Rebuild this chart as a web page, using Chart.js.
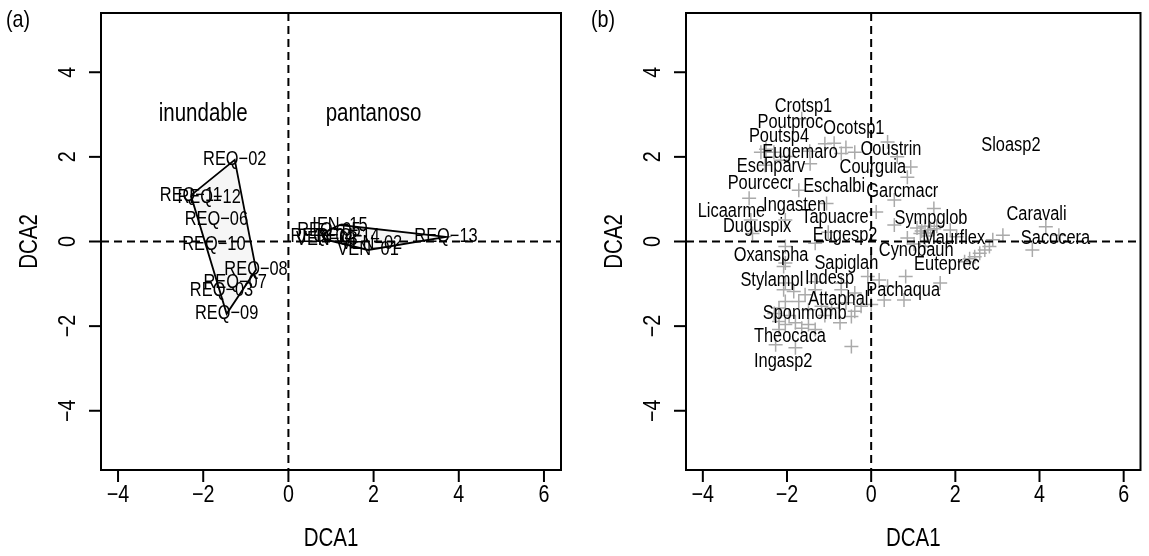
<!DOCTYPE html>
<html><head><meta charset="utf-8">
<script src="https://cdn.jsdelivr.net/npm/chart.js@4.4.1/dist/chart.umd.min.js"></script>
<style>
html,body{margin:0;padding:0;background:#fff;width:1149px;height:556px;overflow:hidden}
#ca{position:absolute;left:0;top:0}
#cb{position:absolute;left:585px;top:0}
</style></head><body>
<canvas id="ca" width="580" height="556"></canvas>
<canvas id="cb" width="564" height="556"></canvas>
<script>
// ---------- shared axis definitions ----------
const xTicks = [-4, -2, 0, 2, 4, 6];
const yTicks = [-4, -2, 0, 2, 4];
const xLimits = [-4.4, 6.4];
const yLimits = [-5.4, 5.4];
const xTitle = "DCA1";
const yTitle = "DCA2";

// ---------- panel (a): sites ----------
const siteNames = ["REQ−02","REQ−11","REQ−12","REQ−06","REQ−10","REQ−08","REQ−07","REQ−03","REQ−09",
                   "REQ−04","REQ−05","VEN−03","REQ−14","VEN−02","VEN−01","IEN−15","REQ−13"];
const siteX = [-1.26,-2.29,-1.86,-1.69,-1.75,-0.76,-1.25,-1.57,-1.45,
               0.79,0.95,0.90,1.40,1.95,1.87,1.21,3.70];
const siteY = [1.93,1.09,1.04,0.51,-0.08,-0.67,-0.98,-1.16,-1.71,
               0.13,0.27,0.04,0.11,-0.04,-0.20,0.39,0.11];
const siteGroup = [0,0,0,0,0,0,0,0,0,1,1,1,1,1,1,1,1];
const groupNames = ["inundable","pantanoso"];
const groupLabelX = [-2, 2];
const groupLabelY = [3, 3];

// ---------- panel (b): species ----------
const spLabelNames = ["Crotsp1","Poutproc","Ocotsp1","Poutsp4","Eugemaro","Coustrin","Eschparv","Courguia",
  "Pourcecr","Eschalbi","Garcmacr","Ingasten","Licaarme","Tapuacre","Duguspix","Eugesp2","Oxanspha",
  "Sapiglah","Stylampl","Indesp","Attaphal","Pachaqua","Sponmomb","Theocaca","Ingasp2","Cynobauh",
  "Euteprec","Sympglob","Maurflex","Sloasp2","Caravali","Sacocera"];
const spLabelX = [-1.61,-1.92,-0.41,-2.19,-1.69,0.47,-2.38,0.04,
  -2.63,-0.88,0.74,-1.82,-3.32,-0.86,-2.71,-0.62,-2.38,
  -0.59,-2.36,-0.99,-0.78,0.76,-1.58,-1.93,-2.09,1.07,
  1.80,1.42,1.96,3.32,3.93,4.38];
const spLabelY = [3.19,2.82,2.66,2.48,2.11,2.17,1.78,1.76,
  1.37,1.29,1.19,0.86,0.70,0.57,0.35,0.15,-0.32,
  -0.51,-0.91,-0.87,-1.36,-1.16,-1.71,-2.24,-2.83,-0.22,
  -0.54,0.55,0.08,2.27,0.65,0.08];
const spX = [-1.65,-1.10,-2.50,-2.31,-2.15,-1.96,-2.52,-1.45,-0.39,0.39,0.62,0.94,0.86,0.55,0.12,1.49,
  0.55,1.41,1.17,1.88,2.03,0.86,3.13,2.89,2.81,2.70,2.58,2.46,4.15,4.46,3.83,0.82,1.64,0.19,0.39,0.78,
  0.31,-0.24,-0.39,-2.08,-2.08,-1.84,-1.57,-1.33,-0.71,-0.39,-2.04,-1.72,-2.19,-1.49,-1.18,-0.94,-0.47,
  0.00,-2.19,-2.04,-1.80,-1.49,-1.33,-0.74,-2.19,-2.27,-1.80,-0.47,-2.04,-2.04,-1.33,-0.71,-0.08,-1.33,
  -2.04,-2.82,-2.86,-2.04,-2.90,-1.72,-0.88,-0.60,-1.46,-1.06,-1.02,1.09,1.28,1.56,1.33,1.02,2.22,2.34,
  1.28,-2.62,-0.71,1.50,1.20,1.35,-2.30,-1.95,-1.65,-1.10,-0.60];
const spY = [2.90,2.31,2.18,2.11,1.92,2.01,1.80,1.84,2.11,2.35,2.00,1.76,1.52,0.98,0.70,0.78,
  0.39,0.27,0.19,0.27,0.11,0.08,0.15,0.04,-0.12,-0.20,-0.28,-0.36,0.35,0.15,-0.20,-0.83,-0.98,-0.91,-1.06,-1.38,
  -1.38,-1.53,-1.65,-0.59,-1.14,-1.18,-1.26,-1.14,-1.14,-1.22,-1.42,-1.42,-1.57,-1.61,-1.53,-1.57,-1.77,
  -1.49,-1.89,-1.96,-1.92,-1.96,-2.08,-1.92,-2.08,-2.44,-2.51,-2.48,-0.51,-0.98,-0.95,-0.98,-0.83,-0.04,
  -0.12,0.19,0.51,0.51,1.02,1.21,2.32,2.22,2.13,0.90,0.22,0.32,0.36,0.36,0.13,-0.06,-0.48,-0.41,
  -0.11,2.11,2.08,0.30,0.25,0.20,-1.70,-1.75,-2.05,-1.75,-1.45];

// ---------- helpers ----------
const FONT = '"Liberation Sans",Arial,Helvetica,sans-serif';
const NARROW = 0.82; // horizontal squeeze to mimic Helvetica Narrow
const fmt = v => (v < 0 ? "\u2212" + Math.abs(v) : String(v));

function drawText(ctx, text, x, y, size, rot, align) {
  ctx.save();
  ctx.translate(x, y);
  if (rot) ctx.rotate(rot);
  ctx.scale(NARROW, 1);
  ctx.font = size + 'px ' + FONT;
  ctx.textAlign = align || 'center';
  ctx.textBaseline = 'middle';
  ctx.fillStyle = '#000';
  ctx.fillText(text, 0, 0);
  ctx.restore();
}

function convexHull(pts) {
  const p = pts.slice().sort((a, b) => a.x - b.x || a.y - b.y);
  const cross = (o, a, b) => (a.x - o.x) * (b.y - o.y) - (a.y - o.y) * (b.x - o.x);
  const lower = [], upper = [];
  for (const q of p) { while (lower.length >= 2 && cross(lower[lower.length-2], lower[lower.length-1], q) <= 0) lower.pop(); lower.push(q); }
  for (let i = p.length - 1; i >= 0; i--) { const q = p[i]; while (upper.length >= 2 && cross(upper[upper.length-2], upper[upper.length-1], q) <= 0) upper.pop(); upper.push(q); }
  upper.pop(); lower.pop();
  const h = lower.concat(upper);
  h.push(h[0]);
  return h;
}

function framePlugin(panelLabel, textItems) {
  return {
    id: 'frame' + panelLabel.replace(/\W/g, ''),
    afterDatasetsDraw(chart) {
      const ctx = chart.ctx, a = chart.chartArea, xs = chart.scales.x, ys = chart.scales.y;
      ctx.save();
      // text labels
      for (const t of textItems) {
        drawText(ctx, t.text, xs.getPixelForValue(t.x), ys.getPixelForValue(t.y), t.size);
      }
      // dashed reference lines
      ctx.strokeStyle = '#000';
      ctx.lineWidth = 2;
      ctx.setLineDash([8, 5]);
      const x0 = xs.getPixelForValue(0), y0 = ys.getPixelForValue(0);
      ctx.beginPath(); ctx.moveTo(x0, a.top); ctx.lineTo(x0, a.bottom); ctx.stroke();
      ctx.beginPath(); ctx.moveTo(a.left, y0); ctx.lineTo(a.right, y0); ctx.stroke();
      ctx.setLineDash([]);
      // box
      ctx.strokeRect(a.left, a.top, a.right - a.left, a.bottom - a.top);
      // ticks and tick labels
      const tl = 12;
      for (const v of xTicks) {
        const px = xs.getPixelForValue(v);
        ctx.beginPath(); ctx.moveTo(px, a.bottom); ctx.lineTo(px, a.bottom + tl); ctx.stroke();
        drawText(ctx, fmt(v), px, a.bottom + 25, 24);
      }
      for (const v of yTicks) {
        const py = ys.getPixelForValue(v);
        ctx.beginPath(); ctx.moveTo(a.left, py); ctx.lineTo(a.left - tl, py); ctx.stroke();
        drawText(ctx, fmt(v), a.left - 33, py, 24, -Math.PI / 2);
      }
      // axis titles
      drawText(ctx, xTitle, (a.left + a.right) / 2, a.bottom + 69, 25);
      drawText(ctx, yTitle, a.left - 71, (a.top + a.bottom) / 2, 25, -Math.PI / 2);
      // panel label
      drawText(ctx, panelLabel, 6, 20, 24, 0, 'left');
      ctx.restore();
    }
  };
}

function baseOptions(rightPad) {
  return {
    responsive: false, animation: false, devicePixelRatio: 1,
    layout: { padding: { top: 13, right: rightPad, left: 0, bottom: 0 } },
    plugins: { legend: { display: false }, tooltip: { enabled: false } },
    scales: {
      x: { type: 'linear', min: xLimits[0], max: xLimits[1],
           grid: { display: false }, border: { display: false }, ticks: { display: false },
           afterFit: s => { s.height = 86; } },
      y: { type: 'linear', min: yLimits[0], max: yLimits[1],
           grid: { display: false }, border: { display: false }, ticks: { display: false },
           afterFit: s => { s.width = 101; } }
    }
  };
}

// ---------- chart (a) ----------
const hullDatasets = groupNames.map((g, gi) => {
  const pts = siteX.map((x, i) => ({ x, y: siteY[i], g: siteGroup[i] })).filter(p => p.g === gi);
  return { data: convexHull(pts), showLine: true, fill: 'shape', tension: 0,
           borderColor: '#000', borderWidth: 1.8, backgroundColor: 'rgba(0,0,0,0.035)', pointRadius: 0 };
});
const textA = siteNames.map((n, i) => ({ text: n, x: siteX[i], y: siteY[i], size: 20 }))
  .concat(groupNames.map((n, i) => ({ text: n, x: groupLabelX[i], y: groupLabelY[i], size: 25 })));
new Chart(document.getElementById('ca'), {
  type: 'scatter',
  data: { datasets: hullDatasets.concat([{ data: siteX.map((x, i) => ({ x, y: siteY[i] })), pointRadius: 0 }]) },
  options: baseOptions(19),
  plugins: [framePlugin('(a)', textA)]
});

// ---------- chart (b) ----------
const textB = spLabelNames.map((n, i) => ({ text: n, x: spLabelX[i], y: spLabelY[i], size: 20 }));
new Chart(document.getElementById('cb'), {
  type: 'scatter',
  data: { datasets: [{ data: spX.map((x, i) => ({ x, y: spY[i] })), pointStyle: 'cross', pointRadius: 7,
                       borderColor: '#aaaaaa', borderWidth: 1.5, backgroundColor: '#aaaaaa' }] },
  options: baseOptions(3),
  plugins: [framePlugin('(b)', textB)]
});
</script>
</body></html>
